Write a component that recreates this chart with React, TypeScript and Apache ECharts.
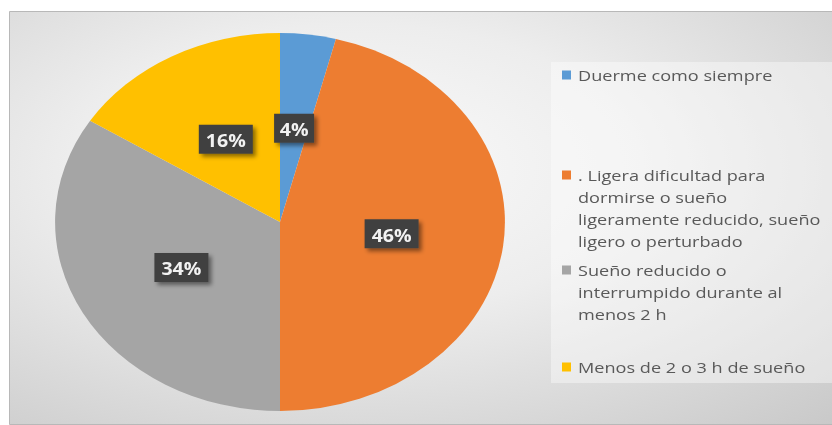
import React, { useEffect, useRef } from "react";
import * as echarts from "echarts";

const categories = [
  "Duerme como siempre",
  ". Ligera dificultad para dormirse o sueño ligeramente reducido, sueño ligero o perturbado",
  "Sueño reducido o interrumpido durante al menos 2 h",
  "Menos de 2 o 3 h de sueño",
];
const legendLines = [
  ["Duerme como siempre"],
  [". Ligera dificultad para", "dormirse o sueño", "ligeramente reducido, sueño", "ligero o perturbado"],
  ["Sueño reducido o", "interrumpido durante al", "menos 2 h"],
  ["Menos de 2 o 3 h de sueño"],
];
const values = [4, 46, 34, 16];
const colors = ["#5B9BD5", "#ED7D31", "#A5A5A5", "#FFC000"];

export default function App() {
  const ref = useRef<HTMLDivElement>(null);
  useEffect(() => {
    if (!ref.current) return;
    const chart = echarts.init(ref.current, undefined, { renderer: "svg" });
    const total = values.reduce((a, b) => a + b, 0);
    const starts: number[] = [];
    let acc = 0;
    values.forEach((v) => {
      starts.push(acc);
      acc += v;
    });
    const cx = 280, cy = 222, rx = 225, ry = 189;
    const sx = 1.21;
    const legendY = [75, 175, 270, 367];
    const graphics: any[] = [
      {
        type: "rect",
        shape: { x: 9.5, y: 11.5, width: 823, height: 413 },
        style: {
          fill: new echarts.graphic.RadialGradient(0.42, 0.38, 1.0, [
            { offset: 0, color: "#fafafa" },
            { offset: 0.35, color: "#ededed" },
            { offset: 1, color: "#bebebe" },
          ]),
          stroke: "#b8b8b8",
          lineWidth: 1,
        },
        silent: true,
      },
      {
        type: "rect",
        shape: { x: 551, y: 62, width: 281, height: 321 },
        style: { fill: "rgba(255,255,255,0.4)" },
        silent: true,
      },
    ];
    categories.forEach((c, i) => {
      graphics.push({
        type: "rect",
        shape: { x: 562, y: legendY[i] - 4.5, width: 9, height: 9 },
        style: { fill: colors[i] },
      });
      graphics.push({
        type: "text",
        x: 578,
        y: legendY[i] - 11,
        scaleX: sx,
        style: {
          text: legendLines[i].join("\n"),
          fill: "#595959",
          font: "15px 'Open Sans'",
          lineHeight: 22,
          verticalAlign: "top",
          align: "left",
        },
      });
    });
    chart.setOption({
      animation: false,
      graphic: graphics,
      series: [
        {
          type: "custom",
          coordinateSystem: "none",
          data: values.map((v, i) => ({ value: [v, starts[i]], name: categories[i] })),
          renderItem: (params: any, api: any) => {
            const i = params.dataIndex;
            const v = api.value(0);
            const s = api.value(1);
            const a0 = (s / total) * Math.PI * 2;
            const a1 = ((s + v) / total) * Math.PI * 2;
            const mid = (a0 + a1) / 2;
            const lx = cx + 0.5 * rx * Math.sin(mid);
            const ly = cy - 0.5 * ry * Math.cos(mid);
            const text = Math.round((v / total) * 100) + "%";
            const w = 12 + 14 * text.length;
            return {
              type: "group",
              children: [
                {
                  type: "sector",
                  x: cx,
                  y: cy,
                  scaleX: rx / ry,
                  shape: {
                    cx: 0,
                    cy: 0,
                    r: ry,
                    r0: 0,
                    startAngle: -Math.PI / 2 + a0,
                    endAngle: -Math.PI / 2 + a1,
                    clockwise: true,
                  },
                  style: { fill: colors[i] },
                  z2: 0,
                },
                {
                  type: "rect",
                  shape: { x: lx - w / 2, y: ly - 14.5, width: w, height: 29 },
                  style: {
                    fill: "#404040",
                    shadowBlur: 4,
                    shadowOffsetX: 3,
                    shadowOffsetY: 3,
                    shadowColor: "rgba(0,0,0,0.45)",
                  },
                  z2: 10,
                },
                {
                  type: "text",
                  x: lx,
                  y: ly + 1,
                  scaleX: 1.15,
                  style: {
                    text,
                    fill: "#f2f2f2",
                    font: "bold 17px 'Open Sans'",
                    align: "center",
                    verticalAlign: "middle",
                  },
                  z2: 11,
                },
              ],
            };
          },
        },
      ],
    });
    return () => chart.dispose();
  }, []);
  return (
    <div
      ref={ref}
      style={{ position: "fixed", left: 0, top: 0, width: 832, height: 425 }}
    />
  );
}
